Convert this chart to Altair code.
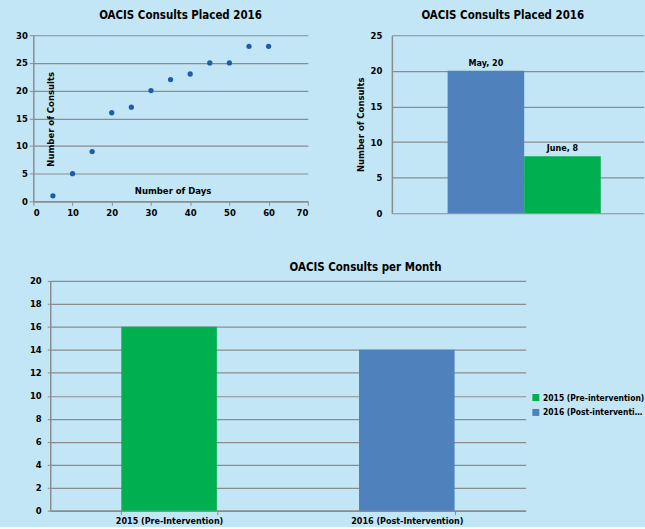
import altair as alt
import pandas as pd

# ---------- data ----------
days = [5, 10, 15, 20, 25, 30, 35, 40, 45, 50, 55, 60]
consults = [1, 5, 9, 16, 17, 20, 22, 23, 25, 25, 28, 28]

months = ["May", "June"]
month_values = [20, 8]
month_labels = ["May, 20", "June, 8"]

periods = ["2015 (Pre-Intervention)", "2016 (Post-Intervention)"]
period_series = ["2015 (Pre-intervention)", "2016 (Post-intervention)"]
period_values = [16, 14]

BLUE = "#4F81BD"
GREEN = "#00B050"
GRID = "#8c8c8c"
FONT = "Liberation Sans Narrow, DejaVu Sans Condensed, Liberation Sans, sans-serif"

df1 = pd.DataFrame({"days": days, "consults": consults})
df2 = pd.DataFrame({"month": months, "value": month_values, "label": month_labels})
df3 = pd.DataFrame({"period": periods, "series": period_series, "value": period_values})


def ttl(text, dx, offset):
    return alt.TitleParams(text=text, fontSize=11.5, font=FONT, fontWeight="bold",
                           anchor="middle", dx=dx, offset=offset, color="black")


# ---------- chart 1: scatter ----------
c1 = alt.Chart(df1).mark_point(filled=True, shape="circle", size=28, color="#1d5ea8", opacity=1).encode(
    x=alt.X("days:Q", scale=alt.Scale(domain=[0, 70], nice=False),
            axis=alt.Axis(values=list(range(0, 71, 10)), grid=False, tickSize=4, labelOverlap=False,
                          title="Number of Days", titleX=140, titleY=-11,
                          titleBaseline="middle", titleAlign="center")),
    y=alt.Y("consults:Q", scale=alt.Scale(domain=[0, 30], nice=False),
            axis=alt.Axis(values=list(range(0, 31, 5)), grid=True, tickSize=4, labelOverlap=False,
                          title="Number of Consults", titleX=17, titleY=84,
                          titleBaseline="middle", titleAlign="center", titleAngle=270)),
).properties(width=276, height=167, title=ttl("OACIS Consults Placed 2016", 10, 9))

# ---------- chart 2: monthly bars ----------
x2 = alt.X("month:N", sort=months,
           scale=alt.Scale(paddingInner=0, paddingOuter=0.643, align=0.566),
           axis=None)
y2 = alt.Y("value:Q", scale=alt.Scale(domain=[0, 25], nice=False),
           axis=alt.Axis(values=list(range(0, 26, 5)), grid=True, ticks=False, labelOverlap=False,
                         labelPadding=10, title="Number of Consults", titlePadding=5))
bars2 = alt.Chart(df2).mark_bar().encode(
    x=x2, y=y2,
    color=alt.Color("month:N", scale=alt.Scale(domain=months, range=[BLUE, GREEN]), legend=None),
)
text2 = alt.Chart(df2).mark_text(dy=-8, fontSize=9, fontWeight="bold", font=FONT, color="black").encode(
    x=x2, y=y2, text="label:N")
c2 = alt.layer(bars2, text2).properties(width=253, height=179,
                                        title=ttl("OACIS Consults Placed 2016", -15, 9))

# ---------- chart 3: per month ----------
c3 = alt.Chart(df3).mark_bar().encode(
    x=alt.X("period:N", sort=periods,
            scale=alt.Scale(paddingInner=0.598, paddingOuter=0.299),
            axis=alt.Axis(labelAngle=0, tickBand="extent", tickSize=4, grid=False,
                          title=None, labelPadding=2, labelFontSize=9)),
    y=alt.Y("value:Q", scale=alt.Scale(domain=[0, 20], nice=False),
            axis=alt.Axis(values=list(range(0, 21, 2)), grid=True, tickSize=3, labelOverlap=False,
                          labelPadding=6, title=None)),
    color=alt.Color("series:N", scale=alt.Scale(domain=period_series, range=[GREEN, BLUE]),
                    legend=alt.Legend(title=None, orient="none", legendX=484, legendY=113,
                                      symbolType="square", symbolSize=49, symbolStrokeWidth=0,
                                      labelFontSize=8.5, labelFont=FONT, labelFontWeight="bold",
                                      labelOffset=3, rowPadding=6, labelLimit=102)),
).properties(width=478, height=231, title=ttl("OACIS Consults per Month", 78, 2))

spacer = alt.Chart(pd.DataFrame({"a": [0]})).mark_rect(opacity=0).encode(
    x=alt.value(0), x2=alt.value(1), y=alt.value(0), y2=alt.value(1)
).properties(width=1, height=1)

top = alt.hconcat(c1, c2, spacing=46.5).resolve_scale(color="independent")
bottom = alt.hconcat(spacer, c3, spacing=-5).resolve_scale(color="independent")

chart = alt.vconcat(top, bottom, spacing=44).resolve_scale(
    color="independent"
).configure(
    background="#c3e6f6",
    padding={"left": 15.5, "top": 8, "right": 0, "bottom": 0},
).configure_view(stroke=None).configure_axis(
    labelFont=FONT, labelFontWeight="bold", labelFontSize=9.5, labelColor="black",
    titleFont=FONT, titleFontWeight="bold", titleFontSize=9.5, titleColor="black",
    domainColor=GRID, gridColor=GRID, tickColor=GRID, domainWidth=1.5, gridWidth=1.2,
)

chart.save("out.html", embed_options={"renderer": "svg", "actions": False})
